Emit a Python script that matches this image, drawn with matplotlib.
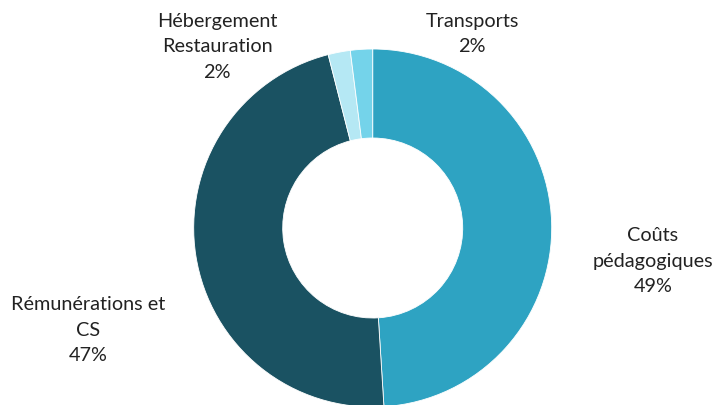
import matplotlib.pyplot as plt

# data
labels = ['Coûts\npédagogiques', 'Rémunérations et\nCS', 'Hébergement\nRestauration', 'Transports']
values = [49, 47, 2, 2]
colors = ['#2EA3C2', '#1A5262', '#B5E8F4', '#74D3EA']

# label positions in pixel coords (x, y from top)
label_pos = [(653, 261), (88, 330), (217, 47), (472, 34)]

plt.rcParams['font.family'] = ['Lato', 'DejaVu Sans']

W, H = 716, 405
fig = plt.figure(figsize=(W / 100, H / 100), dpi=100)
ax = fig.add_axes([0, 0, 1, 1])

cx, cy = 372.7, H - 228
ax.pie(values, colors=colors, startangle=90, counterclock=False,
       center=(cx, cy), radius=179, frame=True,
       wedgeprops=dict(width=89, edgecolor='white', linewidth=0.6))
ax.set_xlim(0, W)
ax.set_ylim(0, H)
ax.set_aspect('equal')
ax.axis('off')

for lab, v, (x, y) in zip(labels, values, label_pos):
    ax.text(x, H - y, f'{lab}\n{v}%', ha='center', va='center',
            fontsize=14.3, color='#222222', linespacing=1.6)

fig.savefig('out.png', dpi=100)
